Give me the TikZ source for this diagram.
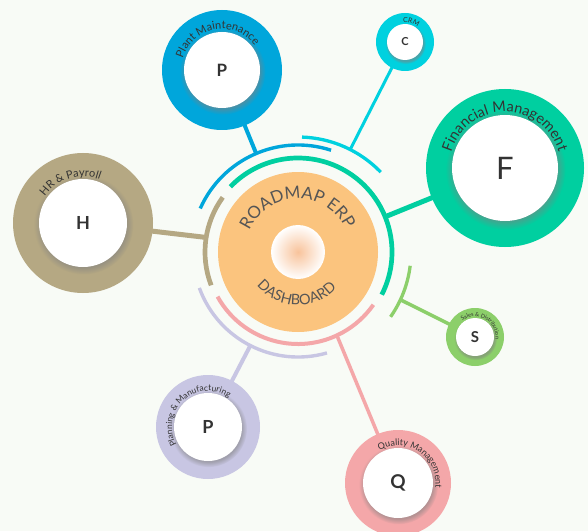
\documentclass[tikz,border=0pt]{standalone}
\usepackage{fontspec}
\setmainfont{Lato}
\setsansfont{Lato}
\usetikzlibrary{decorations.text,shadows,backgrounds}
\definecolor{bg}{HTML}{F8FBF6}
\definecolor{cblue}{HTML}{00A6DB}
\definecolor{ccyan}{HTML}{00D1DF}
\definecolor{cteal}{HTML}{00CFA0}
\definecolor{ctan}{HTML}{B5A883}
\definecolor{cgreen}{HTML}{8CCF6A}
\definecolor{cpink}{HTML}{F4A7A9}
\definecolor{clav}{HTML}{C8C6E3}
\definecolor{corange}{HTML}{FBC47E}
\definecolor{ccenter}{HTML}{F8C39B}
\definecolor{ctext}{HTML}{333333}
\definecolor{ctitle}{HTML}{555555}
\newcommand\arclabel[5]{%
  \path[decorate, decoration={text along path, text align=center,
    text={|\fontsize{#4}{#4}\selectfont\color{ctext}|#5}}]
    ([shift={(#3+80:#2)}]#1.center) arc[start angle=#3+80, end angle=#3-80, radius=#2];}
\begin{document}
\begin{tikzpicture}[x=1pt,y=1pt,
  ring/.style={circle, inner sep=0pt, minimum size=#1},
  inner/.style={circle, inner sep=0pt, minimum size=#1, fill=white,
    circular drop shadow={shadow scale=1.13, shadow xshift=0.5pt, shadow yshift=-1.5pt, opacity=0.55},
    text=ctext, font=\bfseries},
  conn/.style={line width=#1},
  band/.style={line width=#1}]
\useasboundingbox (0,0) rectangle (588,531);
% main circle
\node[ring=160pt, fill=corange] (O) at (298,279) {};
% satellites
\node[ring=120pt, fill=cblue] (PM) at (222,461) {};
\node[inner=76pt, font=\bfseries\fontsize{17}{17}\selectfont] (PMi) at (PM) {P};
\node[ring=58pt, fill=ccyan] (CRM) at (405,489) {};
\node[inner=36pt, font=\bfseries\fontsize{11}{11}\selectfont] (CRMi) at (CRM) {C};
\node[ring=158pt, fill=cteal] (FM) at (505,363) {};
\node[inner=106pt, font=\fontsize{31}{31}\selectfont] (FMi) at (FM) {F};
\node[ring=140pt, fill=ctan] (HR) at (83,308) {};
\node[inner=88pt, font=\bfseries\fontsize{18}{18}\selectfont] (HRi) at (HR) {H};
\node[ring=104pt, fill=clav] (PL) at (208,104) {};
\node[inner=68pt, font=\bfseries\fontsize{18}{18}\selectfont] (PLi) at (PL) {P};
\node[ring=106pt, fill=cpink] (QM) at (398,48) {};
\node[inner=70pt, font=\bfseries\fontsize{19}{19}\selectfont] (QMi) at (QM) {Q};
\node[ring=58pt, fill=cgreen] (SD) at (475,194) {};
\node[inner=38pt, font=\bfseries\fontsize{15}{15}\selectfont] (SDi) at (SD) {S};
% attachment points
\coordinate (aHR) at ([shift={(171:93)}]O.center);
\coordinate (aPM) at ([shift={(113:107)}]O.center);
\coordinate (aCRM) at ([shift={(63:115)}]O.center);
\coordinate (aFM) at ([shift={(22:94)}]O.center);
\coordinate (aSD) at ([shift={(-25:113)}]O.center);
\coordinate (aQM) at ([shift={(-65:92)}]O.center);
\coordinate (aPL) at ([shift={(-117:105)}]O.center);
\begin{scope}[on background layer]
\fill[bg] (0,0) rectangle (588,531);
\draw[conn=5pt, ctan] (aHR) -- (HR.center);
\draw[conn=4pt, cblue] (aPM) -- (PM.center);
\draw[conn=3pt, ccyan] (aCRM) -- (CRM.center);
\draw[conn=5pt, cteal] (aFM) -- (FM.center);
\draw[conn=3.5pt, cgreen] (aSD) -- (SD.center);
\draw[conn=3.5pt, cpink] (aQM) -- (QM.center);
\draw[conn=4pt, clav] (aPL) -- (PL.center);
\end{scope}
% bands around the main circle
\draw[band=4.7pt, cteal] ([shift={(-27:94)}]O.center) arc[start angle=-27, end angle=136, radius=94];
\draw[band=4.7pt, ctan] ([shift={(144:93)}]O.center) arc[start angle=144, end angle=201, radius=93];
\draw[band=4pt, cpink] ([shift={(209:92)}]O.center) arc[start angle=209, end angle=325, radius=92];
\draw[band=3.4pt, cblue] ([shift={(72:107)}]O.center) arc[start angle=72, end angle=156, radius=107];
\draw[band=3.4pt, clav] ([shift={(200:105)}]O.center) arc[start angle=200, end angle=286, radius=105];
\draw[band=3.3pt, ccyan] ([shift={(44:115)}]O.center) arc[start angle=44, end angle=88, radius=115];
\draw[band=3.3pt, cgreen] ([shift={(-35:113)}]O.center) arc[start angle=-35, end angle=-7, radius=113];
% centre disc
\shade[inner color=ccenter, outer color=white] (O.center) circle (27);
% titles
\path[decorate, decoration={text along path, text align=center,
  text={|\fontsize{17}{17}\selectfont\color{ctitle}|ROADMAP ERP}}]
  ([shift={(171:53)}]O.center) arc[start angle=171, end angle=11, radius=53];
\path[decorate, decoration={text along path, text align=center,
  text={|\fontsize{14.5}{14.5}\selectfont\color{ctitle}|DASHBOARD}}]
  ([shift={(188:53)}]O.center) arc[start angle=188, end angle=348, radius=53];
% satellite labels
\arclabel{PM}{41}{100}{11}{Plant Maintenance}
\arclabel{CRM}{19.5}{73}{7}{CRM}
\arclabel{FM}{56}{90}{14.5}{Financial Management}
\arclabel{HR}{46.5}{107}{11}{HR {\&} Payroll}
\arclabel{PL}{36}{132}{8.5}{Planning {\&} Manufacturing}
\arclabel{QM}{37.5}{56}{9}{Quality Management}
\arclabel{SD}{20.5}{61}{5.5}{Sales {\&} Distribution}
\end{tikzpicture}
\end{document}
